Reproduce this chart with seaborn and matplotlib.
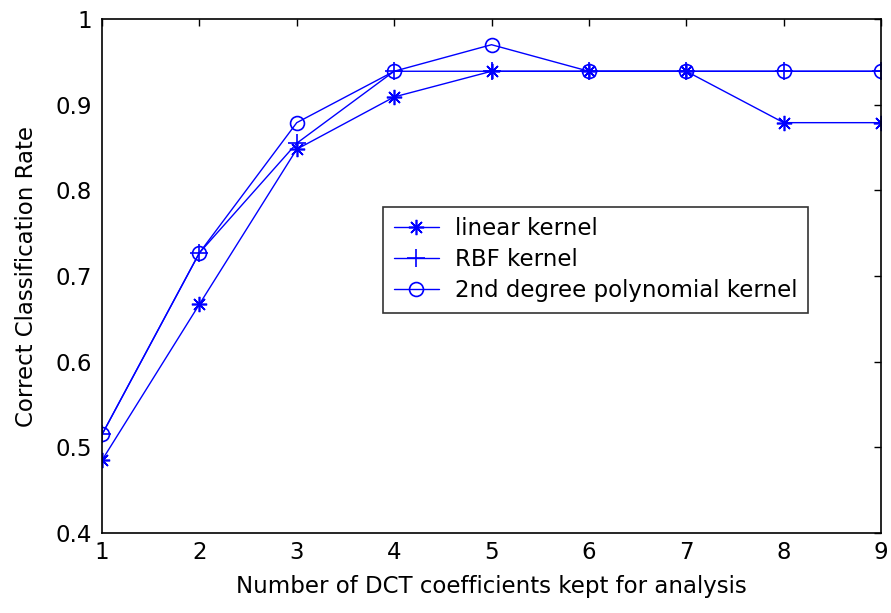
import matplotlib
matplotlib.use("Agg")
import matplotlib.pyplot as plt
import seaborn as sns

sns.set_theme(style="white")
plt.rcParams['font.family'] = ['DejaVu Sans']
plt.rcParams['text.color'] = 'black'

n_coeffs = [1, 2, 3, 4, 5, 6, 7, 8, 9]
linear_kernel = [0.485, 0.667, 0.848, 0.909, 0.939, 0.939, 0.939, 0.879, 0.879]
rbf_kernel = [0.515, 0.727, 0.855, 0.939, 0.939, 0.939, 0.939, 0.939, 0.939]
poly_kernel = [0.515, 0.727, 0.879, 0.939, 0.970, 0.939, 0.939, 0.939, 0.939]
x_ticks = [1, 2, 3, 4, 5, 6, 7, 8, 9]
y_ticks = [0.4, 0.5, 0.6, 0.7, 0.8, 0.9, 1.0]

FS = 16.5
fig = plt.figure(figsize=(8.91, 6.13), dpi=100)
ax = fig.add_axes([0.1145, 0.1305, 0.8743, 0.8385])

blue = (0, 0, 1)
sns.lineplot(x=n_coeffs, y=linear_kernel, ax=ax, color=blue, lw=1,
             marker=(8, 2, 0), markersize=11, mec=blue, mew=1.2,
             label="linear kernel")
sns.lineplot(x=n_coeffs, y=rbf_kernel, ax=ax, color=blue, lw=1,
             marker="+", markersize=13, mec=blue, mew=1.2,
             label="RBF kernel")
sns.lineplot(x=n_coeffs, y=poly_kernel, ax=ax, color=blue, lw=1,
             marker="o", markersize=10, mfc="none", mec=blue, mew=1.2,
             label="2nd degree polynomial kernel")

ax.set_xlim(1, 9)
ax.set_ylim(0.4, 1.0)
ax.set_xticks(x_ticks)
ax.set_yticks(y_ticks)
ax.set_yticklabels(["%g" % v for v in y_ticks])
ax.tick_params(direction="in", length=5, width=1, top=True, right=True,
               labelsize=FS, colors="black")
ax.tick_params(axis="y", pad=7)
ax.tick_params(axis="x", pad=6)
for s in ax.spines.values():
    s.set_color("black")
    s.set_linewidth(1.2)
ax.set_xlabel("Number of DCT coefficients kept for analysis", fontsize=FS,
              color="black", labelpad=8)
ax.set_ylabel("Correct Classification Rate", fontsize=FS, color="black",
              labelpad=13)

leg = ax.legend(loc="upper left", bbox_to_anchor=(0.361, 0.634), fontsize=FS,
                frameon=True, fancybox=False, borderaxespad=0, handlelength=2.0,
                handletextpad=0.7, labelspacing=0.35, borderpad=0.45)
leg.get_frame().set_edgecolor("black")
leg.get_frame().set_linewidth(1.2)
for t in leg.get_texts():
    t.set_color("black")

fig.savefig("out.png", dpi=100)
